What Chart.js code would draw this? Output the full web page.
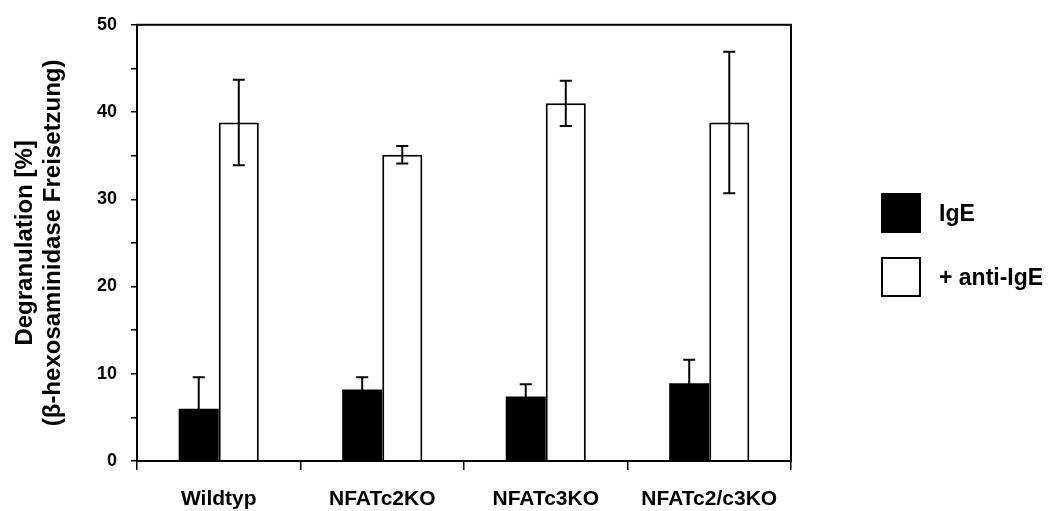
<!DOCTYPE html>
<html lang="de">
<head>
<meta charset="UTF-8">
<title>Degranulation</title>
<script src="https://cdn.jsdelivr.net/npm/chart.js"></script>
<style>
  body { margin: 0; padding: 0; background: #fff; }
  .wrap { width: 1051px; height: 511px; position: relative; }
</style>
</head>
<body>
<div class="wrap"><canvas id="chart"></canvas></div>
<script>
// values
const categories = ['Wildtyp', 'NFATc2KO', 'NFATc3KO', 'NFATc2/c3KO'];
const igeValues = [6.0, 8.2, 7.4, 8.9];
const igeErrors = [3.6, 1.4, 1.4, 2.7];
const antiValues = [38.8, 35.1, 41.0, 38.8];
const antiErrors = [4.9, 1.0, 2.6, 8.1];
const yTicks = [0, 10, 20, 30, 40, 50];

const FONT = '"Liberation Sans", Arial, sans-serif';

// error bars, drawn on top of the bars
const errorBars = {
  id: 'errorBars',
  afterDatasetsDraw(chart) {
    const ctx = chart.ctx;
    const y = chart.scales.y;
    ctx.save();
    ctx.strokeStyle = '#000';
    ctx.lineWidth = 2;
    chart.data.datasets.forEach((ds, i) => {
      chart.getDatasetMeta(i).data.forEach((bar, j) => {
        const v = ds.data[j], e = ds.errors[j];
        const top = y.getPixelForValue(v + e);
        const bot = y.getPixelForValue(v - e);
        ctx.beginPath();
        ctx.moveTo(bar.x, top); ctx.lineTo(bar.x, bot);
        ctx.moveTo(bar.x - 6, top); ctx.lineTo(bar.x + 6, top);
        ctx.moveTo(bar.x - 6, bot); ctx.lineTo(bar.x + 6, bot);
        ctx.stroke();
      });
    });
    ctx.restore();
  }
};

// box round the plot area and the legend on the right
const frameAndLegend = {
  id: 'frameAndLegend',
  afterDraw(chart) {
    const ctx = chart.ctx;
    const a = chart.chartArea;
    ctx.save();
    ctx.strokeStyle = '#000';
    ctx.lineWidth = 2;
    ctx.strokeRect(a.left, a.top, a.right - a.left, a.bottom - a.top);

    ctx.font = 'bold 23px ' + FONT;
    ctx.textBaseline = 'middle';
    chart.data.datasets.forEach((ds, i) => {
      const bx = 881, by = 193 + i * 64;
      ctx.fillStyle = ds.backgroundColor;
      ctx.fillRect(bx, by, 40, 40);
      ctx.strokeRect(bx + 1, by + 1, 38, 38);
      ctx.fillStyle = '#000';
      ctx.fillText(ds.label, 939, by + 22);
    });
    ctx.restore();
  }
};

new Chart(document.getElementById('chart'), {
  type: 'bar',
  data: {
    labels: categories,
    datasets: [
      {
        label: 'IgE',
        data: igeValues,
        errors: igeErrors,
        backgroundColor: '#000',
        borderColor: '#000',
        borderWidth: 0
      },
      {
        label: '+ anti-IgE',
        data: antiValues,
        errors: antiErrors,
        backgroundColor: '#fff',
        borderColor: '#000',
        borderWidth: 2
      }
    ]
  },
  options: {
    responsive: true,
    maintainAspectRatio: false,
    animation: false,
    categoryPercentage: 0.49,
    barPercentage: 1.0,
    layout: { padding: { top: 23, right: 260, left: 0, bottom: 0 } },
    plugins: {
      legend: { display: false },
      tooltip: { enabled: false }
    },
    scales: {
      x: {
        afterFit(scale) { scale.height = 50; },
        grid: { drawOnChartArea: false, offset: true, tickLength: 9, color: '#000', lineWidth: 1.5 },
        border: { display: true, color: '#000', width: 2 },
        ticks: { color: '#000', padding: 17, font: { family: FONT, size: 21, weight: 'bold' } }
      },
      y: {
        min: 0,
        max: 50,
        afterFit(scale) { scale.width = 137; },
        grid: { drawOnChartArea: false, tickLength: 6, color: '#000', lineWidth: 1.5 },
        border: { display: true, color: '#000', width: 2 },
        ticks: {
          stepSize: 5,
          padding: 14,
          color: '#000',
          font: { family: FONT, size: 18, weight: 'bold' },
          callback: v => yTicks.includes(v) ? v : ''
        },
        title: {
          display: true,
          text: ['Degranulation [%]', '(β-hexosaminidase Freisetzung)'],
          color: '#000',
          padding: { top: 11, bottom: 0 },
          font: { family: FONT, size: 24, weight: 'bold', lineHeight: 1.17 }
        }
      }
    }
  },
  plugins: [errorBars, frameAndLegend]
});
</script>
</body>
</html>
